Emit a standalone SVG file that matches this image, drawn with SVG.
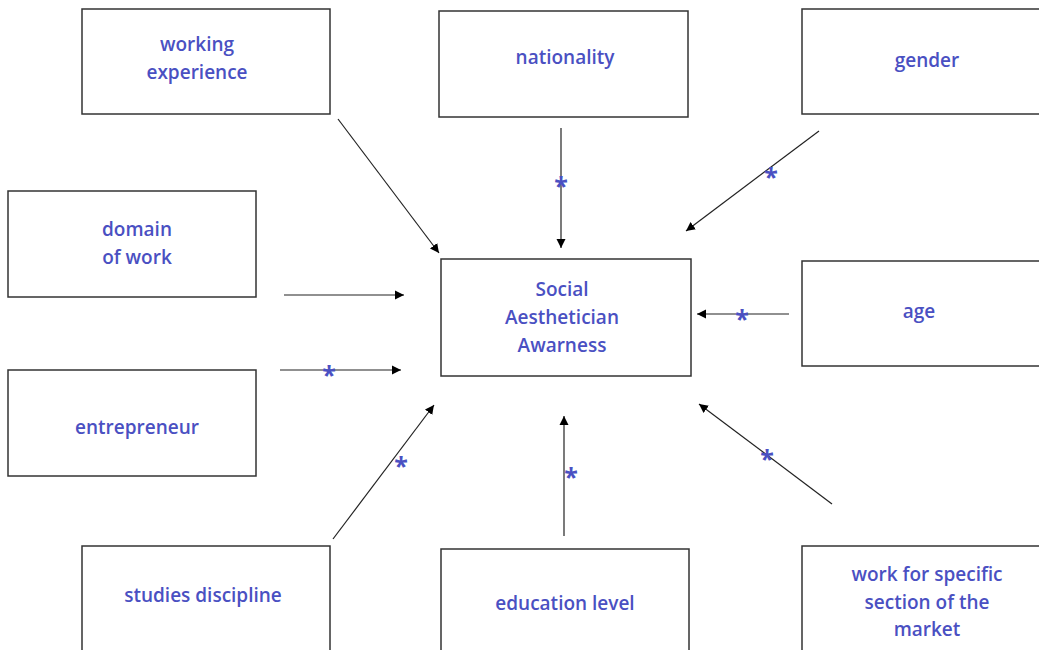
<svg xmlns="http://www.w3.org/2000/svg" width="1039" height="650" viewBox="0 0 1039 650">
<style>
.box{fill:#fff;stroke:#333;stroke-width:1.5}
.lbl{font-family:"Open Sans","Noto Sans",sans-serif;font-weight:600;font-size:19px;fill:#4a50c2;text-anchor:middle}
.ast{font-family:"Open Sans","Noto Sans",sans-serif;font-weight:700;font-size:25px;fill:#4a50c2;text-anchor:middle}
.con{stroke:#222;stroke-width:1.2;fill:none;marker-end:url(#ah)}
</style>
<defs>
<marker id="ah" markerUnits="userSpaceOnUse" markerWidth="10" markerHeight="10" refX="9" refY="5" orient="auto">
<path d="M0,0.5 L9,5 L0,9.5 z" fill="#000"/>
</marker>
</defs>
<rect width="1039" height="650" fill="#fff"/>
<g id="working-experience"><rect class="box" x="82" y="9" width="248" height="105"/><text class="lbl" x="197" y="51">working</text><text class="lbl" x="197" y="79">experience</text></g>
<g id="nationality"><rect class="box" x="439" y="11" width="249" height="106"/><text class="lbl" x="565" y="64">nationality</text></g>
<g id="gender"><rect class="box" x="802" y="9" width="250" height="105"/><text class="lbl" x="927" y="67">gender</text></g>
<g id="domain-of-work"><rect class="box" x="8" y="191" width="248" height="106"/><text class="lbl" x="137" y="236">domain</text><text class="lbl" x="137" y="264">of work</text></g>
<g id="social-aesthetician-awarness"><rect class="box" x="441" y="259" width="250" height="117"/><text class="lbl" x="562" y="296">Social</text><text class="lbl" x="562" y="324">Aesthetician</text><text class="lbl" x="562" y="352">Awarness</text></g>
<g id="age"><rect class="box" x="802" y="261" width="250" height="105"/><text class="lbl" x="919" y="318">age</text></g>
<g id="entrepreneur"><rect class="box" x="8" y="370" width="248" height="106"/><text class="lbl" x="137" y="434">entrepreneur</text></g>
<g id="studies-discipline"><rect class="box" x="82" y="546" width="248" height="110"/><text class="lbl" x="203" y="602">studies discipline</text></g>
<g id="education-level"><rect class="box" x="441" y="549" width="248" height="110"/><text class="lbl" x="565" y="610">education level</text></g>
<g id="work-for-specific-section"><rect class="box" x="802" y="546" width="250" height="110"/><text class="lbl" x="927" y="581">work for specific</text><text class="lbl" x="927" y="609">section of the</text><text class="lbl" x="927" y="636">market</text></g>
<g id="connectors">
<line class="con" x1="338" y1="119" x2="439" y2="253"/>
<line class="con" x1="561" y1="128" x2="561" y2="248"/>
<line class="con" x1="819" y1="131" x2="686" y2="231"/>
<line class="con" x1="284" y1="295" x2="404" y2="295"/>
<line class="con" x1="789" y1="314" x2="697" y2="314"/>
<line class="con" x1="280" y1="370" x2="401" y2="370"/>
<line class="con" x1="333" y1="539" x2="434" y2="405"/>
<line class="con" x1="564" y1="536" x2="564" y2="416"/>
<line class="con" x1="832" y1="504" x2="699" y2="404"/>
<text class="ast" x="561" y="195">*</text>
<text class="ast" x="771" y="186">*</text>
<text class="ast" x="742" y="328">*</text>
<text class="ast" x="329" y="384">*</text>
<text class="ast" x="401" y="475">*</text>
<text class="ast" x="571" y="486">*</text>
<text class="ast" x="767" y="468">*</text>
</g>
</svg>
